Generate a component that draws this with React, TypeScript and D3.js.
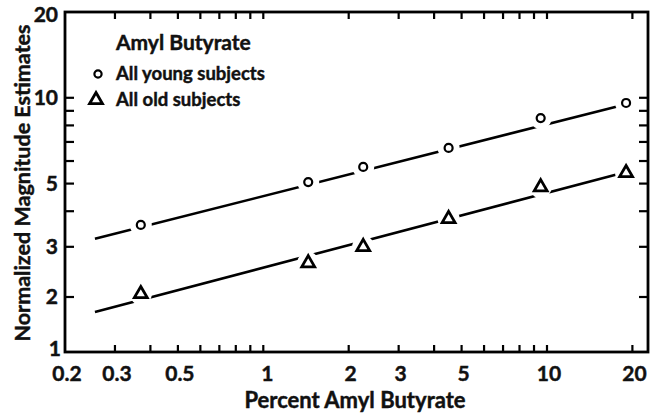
import React, { useEffect, useRef } from "react";
import * as d3 from "d3";

// percent amyl butyrate (x) and normalized magnitude estimates (y)
const concentrations = [0.37, 1.44, 2.25, 4.5, 9.5, 19];
const youngEstimates = [3.58, 5.06, 5.72, 6.67, 8.49, 9.59];
const oldEstimates = [2.05, 2.63, 3.0, 3.76, 4.86, 5.45];

const fitX = [0.255, 19];
const youngFit = [3.2, 9.5];
const oldFit = [1.655, 5.49];

const xLabels = [0.2, 0.3, 0.5, 1, 2, 3, 5, 10, 20];
const xTickVals = [0.3, 0.4, 0.5, 0.6, 0.7, 0.8, 0.9, 1, 2, 3, 4, 5, 6, 7, 8, 9, 10, 20];
const yLabels = [1, 2, 3, 5, 10, 20];
const yTickVals = [2, 3, 4, 5, 6, 7, 8, 9, 10];

const legendTitle = "Amyl Butyrate";
const legendItems = ["All young subjects", "All old subjects"];

const FONT = "Lato, 'Open Sans', sans-serif";

const App = () => {
  const ref = useRef<SVGSVGElement>(null);

  useEffect(() => {
    drawChart();
  }, []);

  const drawChart = () => {
    const svg = d3.select(ref.current);
    svg.selectAll("*").remove();

    const left = 65,
      right = 648,
      top = 12,
      bottom = 352;

    const x = d3.scaleLog().domain([0.2, 22.7]).range([left, right]);
    // the printed y axis is squeezed below 2, so the scale is in two pieces
    const y = d3.scaleLog().domain([1, 2, 20]).range([bottom, 297, top]);

    const line = d3
      .line<[number, number]>()
      .x((d) => x(d[0]))
      .y((d) => y(d[1]));

    const drawFit = (vals: number[]) => {
      svg
        .append("path")
        .datum(fitX.map((v, i) => [v, vals[i]] as [number, number]))
        .attr("d", line)
        .style("fill", "none")
        .style("stroke", "#000")
        .style("stroke-width", 2.6);
    };
    drawFit(youngFit);
    drawFit(oldFit);

    // white gaps in the lines round each marker
    const gaps = [
      ...concentrations.map((c, i) => [c, youngEstimates[i]]),
      ...concentrations.map((c, i) => [c, oldEstimates[i]]),
    ];
    svg
      .selectAll(".gap")
      .data(gaps)
      .enter()
      .append("circle")
      .attr("class", "gap")
      .attr("cx", (d) => x(d[0]))
      .attr("cy", (d) => y(d[1]))
      .attr("r", 11)
      .style("fill", "#fff");

    const triangle = d3.symbol().type(d3.symbolTriangle).size(72);

    svg
      .selectAll(".young")
      .data(concentrations)
      .enter()
      .append("circle")
      .attr("class", "young")
      .attr("cx", (d) => x(d))
      .attr("cy", (d, i) => y(youngEstimates[i]))
      .attr("r", 4)
      .style("fill", "#fff")
      .style("stroke", "#000")
      .style("stroke-width", 2.2);

    svg
      .selectAll(".old")
      .data(concentrations)
      .enter()
      .append("path")
      .attr("class", "old")
      .attr("d", triangle)
      .attr("transform", (d, i) => `translate(${x(d)},${y(oldEstimates[i])})`)
      .style("fill", "#fff")
      .style("stroke", "#000")
      .style("stroke-width", 2.8);

    // frame
    svg
      .append("rect")
      .attr("x", left)
      .attr("y", top)
      .attr("width", right - left)
      .attr("height", bottom - top)
      .style("fill", "none")
      .style("stroke", "#000")
      .style("stroke-width", 2.8);

    const tick = 7;
    const ticks = svg.append("g").style("stroke", "#000").style("stroke-width", 2.2);
    xTickVals.forEach((v) => {
      ticks.append("line").attr("x1", x(v)).attr("x2", x(v)).attr("y1", bottom).attr("y2", bottom - tick);
      ticks.append("line").attr("x1", x(v)).attr("x2", x(v)).attr("y1", top).attr("y2", top + tick);
    });
    yTickVals.forEach((v) => {
      ticks.append("line").attr("x1", left).attr("x2", left + 9).attr("y1", y(v)).attr("y2", y(v));
      ticks.append("line").attr("x1", right).attr("x2", right - 9).attr("y1", y(v)).attr("y2", y(v));
    });

    const bold = (sel: any, size: number) =>
      sel
        .style("font-family", FONT)
        .style("font-weight", "bold")
        .style("font-size", `${size}px`)
        .style("fill", "#111")
        .style("stroke", "#111")
        .style("stroke-width", 0.45);

    bold(
      svg
        .selectAll(".xlab")
        .data(xLabels)
        .enter()
        .append("text")
        .attr("class", "xlab")
        .attr("x", (d) => x(d) + (d === 1 ? 4 : 2))
        .attr("y", 381)
        .attr("text-anchor", "middle")
        .text((d) => d),
      21
    );

    bold(
      svg
        .selectAll(".ylab")
        .data(yLabels)
        .enter()
        .append("text")
        .attr("class", "ylab")
        .attr("x", (d) => (d === 1 ? 61 : 58))
        .attr("y", (d) => (d === 20 ? 15 : d === 1 ? 349 : y(d)))
        .attr("dy", "0.35em")
        .attr("text-anchor", "end")
        .text((d) => d),
      21
    );

    bold(
      svg
        .append("text")
        .attr("x", 355)
        .attr("y", 408)
        .attr("text-anchor", "middle")
        .text("Percent Amyl Butyrate"),
      22
    );

    bold(
      svg
        .append("text")
        .attr("transform", "translate(30,183) rotate(-90)")
        .attr("text-anchor", "middle")
        .text("Normalized Magnitude Estimates"),
      21.5
    );

    // legend
    bold(
      svg
        .append("text")
        .attr("x", 116)
        .attr("y", 43)
        .attr("dy", "0.35em")
        .text(legendTitle),
      21
    );

    svg
      .append("circle")
      .attr("cx", 98)
      .attr("cy", 74)
      .attr("r", 3.6)
      .style("fill", "#fff")
      .style("stroke", "#000")
      .style("stroke-width", 2.2);
    svg
      .append("path")
      .attr("d", triangle)
      .attr("transform", "translate(96,100)")
      .style("fill", "#fff")
      .style("stroke", "#000")
      .style("stroke-width", 2.8);

    bold(
      svg
        .selectAll(".leg")
        .data(legendItems)
        .enter()
        .append("text")
        .attr("class", "leg")
        .attr("x", 116)
        .attr("y", (d, i) => 74 + i * 26)
        .attr("dy", "0.35em")
        .text((d) => d),
      18.5
    );
  };

  return (
    <svg
      ref={ref}
      width={656}
      height={415}
      style={{ position: "absolute", left: 0, top: 0, background: "#fff" }}
    />
  );
};

export default App;
